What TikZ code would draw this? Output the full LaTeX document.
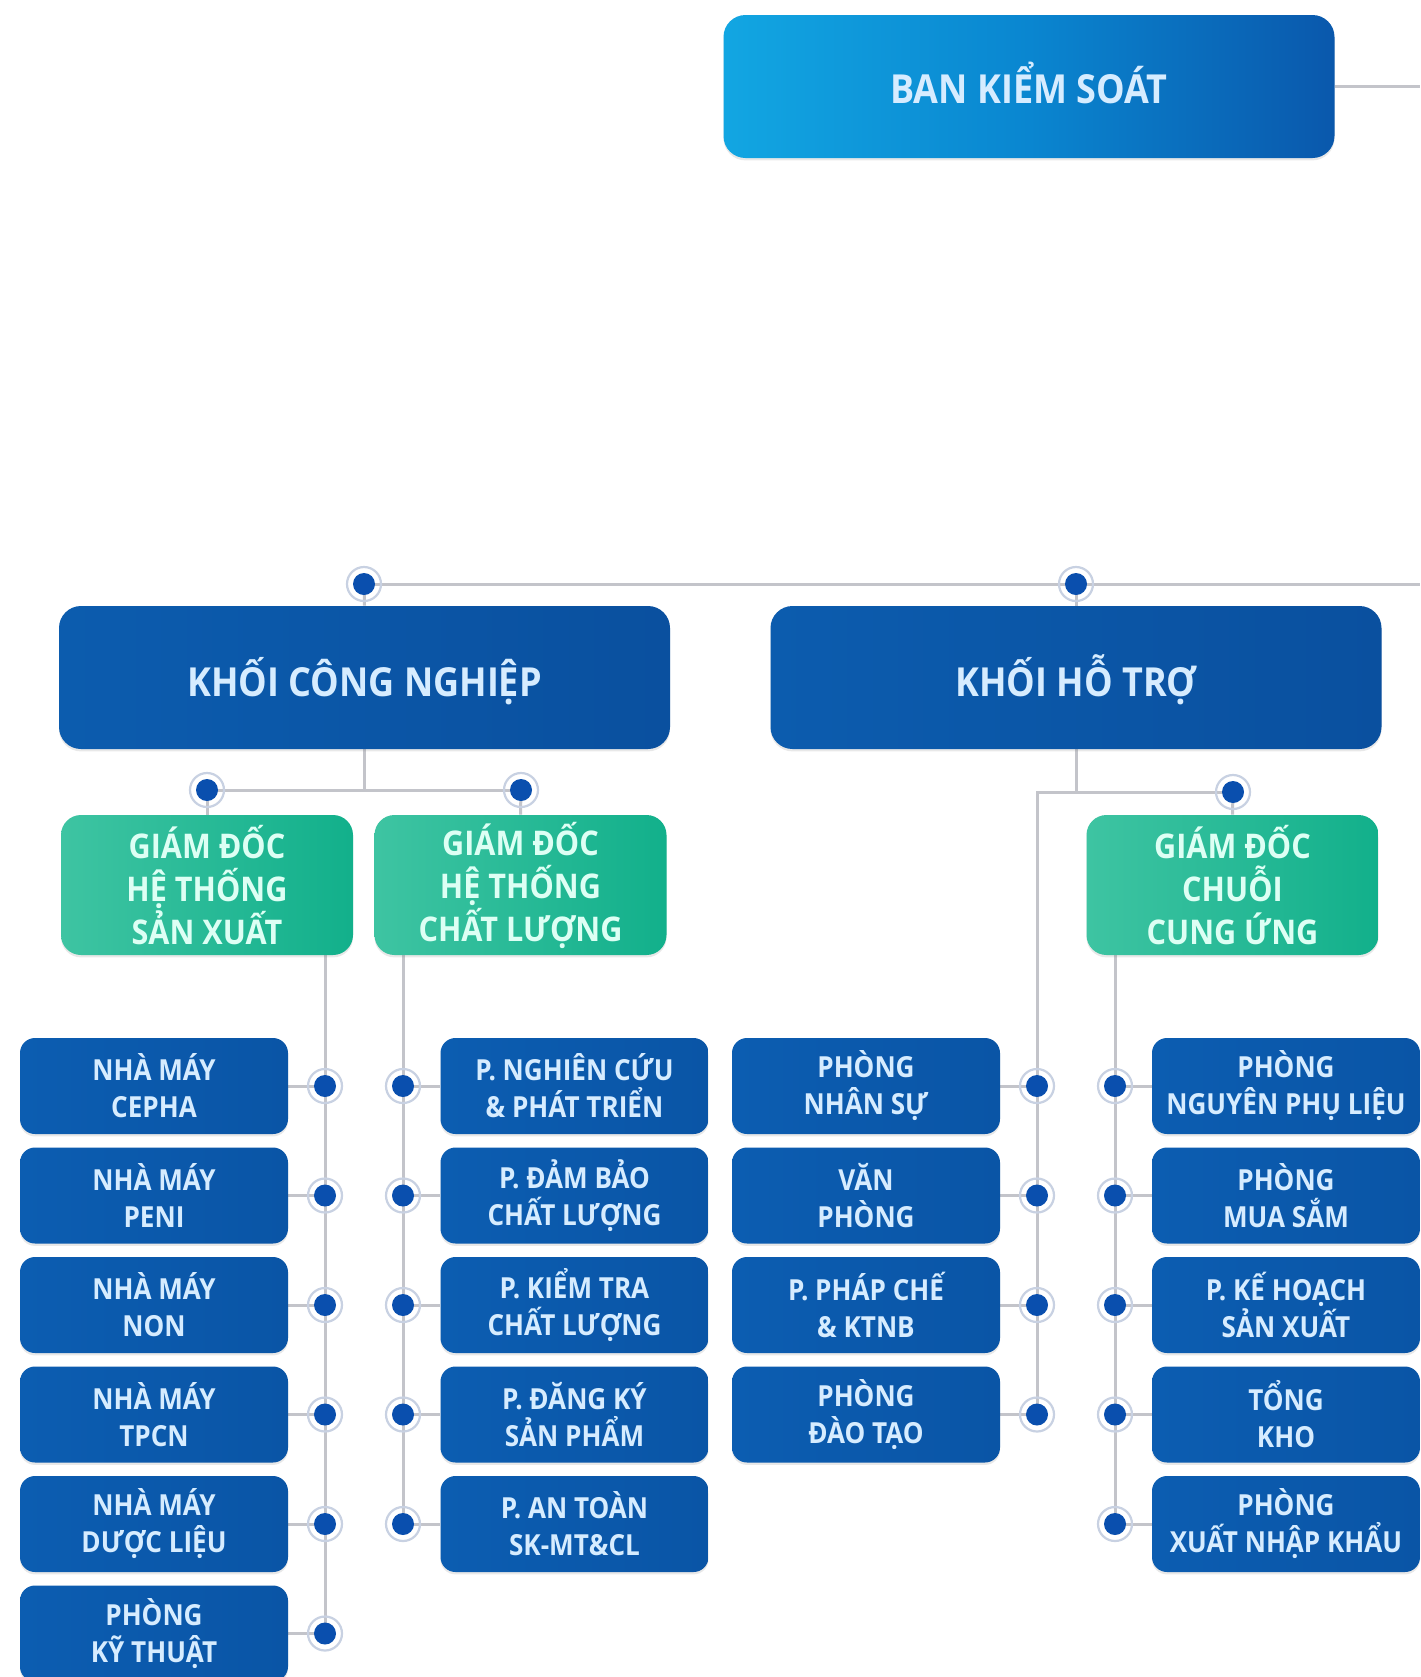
\documentclass[tikz,border=0pt]{standalone}
\usepackage{fontspec}
\newfontfamily\boxfont{Open Sans}[FakeStretch=0.9]
\usetikzlibrary{shadows,backgrounds}
\definecolor{linegray}{HTML}{C3C4CA}
\definecolor{dotblue}{HTML}{0A4FAE}
\definecolor{ringcol}{HTML}{C8D1E2}
\definecolor{txtblue}{HTML}{D6ECFF}
\definecolor{txtgreen}{HTML}{DDFFF4}
\definecolor{topL}{HTML}{12A6E2}
\definecolor{topR}{HTML}{0A58AC}
\definecolor{topM}{HTML}{0A86D0}
\definecolor{headL}{HTML}{0C5CAE}
\definecolor{headR}{HTML}{0A509F}
\definecolor{greenL}{HTML}{3EC4A2}
\definecolor{greenR}{HTML}{12B08B}
\definecolor{smallL}{HTML}{0C5DB1}
\definecolor{smallR}{HTML}{0A55A6}
\tikzset{
  boxbase/.style={rounded corners=7.5pt, inner sep=0pt, align=center,
    drop shadow={opacity=0.18, shadow xshift=0pt, shadow yshift=-1.2pt}},
  topbox/.style={boxbase, rounded corners=11pt, minimum width=305.5pt, minimum height=71.5pt,
    left color=topL, right color=topR, middle color=topM,
    text height=17.2pt, text depth=0pt,
    text=txtblue, font=\boxfont\bfseries\fontsize{20}{24}\selectfont},
  headbox/.style={boxbase, rounded corners=11pt, minimum width=305.5pt, minimum height=71.5pt,
    left color=headL, right color=headR,
    text height=19pt, text depth=0pt,
    text=txtblue, font=\boxfont\bfseries\fontsize{20}{24}\selectfont},
  gbox/.style={boxbase, rounded corners=10pt, minimum width=146pt, minimum height=70pt,
    left color=greenL, right color=greenR,
    text=txtgreen, font=\boxfont\bfseries\fontsize{17}{21.5}\selectfont},
  sbox/.style={boxbase, minimum width=134pt, minimum height=48pt,
    left color=smallL, right color=smallR,
    text=txtblue, font=\boxfont\bfseries\fontsize{14.5}{18.5}\selectfont},
  dotnode/.style={circle, fill=dotblue, minimum size=11pt, inner sep=0pt},
  conn/.style={draw=linegray, line width=1.5pt},
  ring/.style={draw=ringcol, line width=1.1pt},
}
\begin{document}
\begin{tikzpicture}[x=0.5pt, y=-0.5pt]
\useasboundingbox (0,0) rectangle (1420,1677);

% top level
\node[topbox] (ban) at (1029,86.5) {BAN KIỂM SOÁT};
\coordinate (eR1) at (1420,86.5);
\coordinate (eR2) at (1420,584);

\node[headbox] (kcn) at (364.5,677.5) {KHỐI CÔNG NGHIỆP};
\node[headbox] (kht) at (1076,677.5) {KHỐI HỖ TRỢ};

\node[gbox] (g1) at (207,885) {GIÁM ĐỐC\\HỆ THỐNG\\SẢN XUẤT};
\node[gbox] (g2) at (520.5,885) {GIÁM ĐỐC\\HỆ THỐNG\\CHẤT LƯỢNG};
\node[gbox] (g3) at (1232.5,885) {GIÁM ĐỐC\\CHUỖI\\CUNG ỨNG};

% column 1
\node[sbox] (a1) at (154,1086) {NHÀ MÁY\\CEPHA};
\node[sbox] (a2) at (154,1195.5) {NHÀ MÁY\\PENI};
\node[sbox] (a3) at (154,1305) {NHÀ MÁY\\NON};
\node[sbox] (a4) at (154,1414.5) {NHÀ MÁY\\TPCN};
\node[sbox] (a5) at (154,1524) {NHÀ MÁY\\DƯỢC LIỆU};
\node[sbox] (a6) at (154,1633.5) {PHÒNG\\KỸ THUẬT};
% column 2
\node[sbox] (b1) at (574.5,1086) {P. NGHIÊN CỨU\\\& PHÁT TRIỂN};
\node[sbox] (b2) at (574.5,1195.5) {P. ĐẢM BẢO\\CHẤT LƯỢNG};
\node[sbox] (b3) at (574.5,1305) {P. KIỂM TRA\\CHẤT LƯỢNG};
\node[sbox] (b4) at (574.5,1414.5) {P. ĐĂNG KÝ\\SẢN PHẨM};
\node[sbox] (b5) at (574.5,1524) {P. AN TOÀN\\SK-MT\&CL};
% column 3
\node[sbox] (c1) at (866,1086) {PHÒNG\\NHÂN SỰ};
\node[sbox] (c2) at (866,1195.5) {VĂN\\PHÒNG};
\node[sbox] (c3) at (866,1305) {P. PHÁP CHẾ\\\& KTNB};
\node[sbox] (c4) at (866,1414.5) {PHÒNG\\ĐÀO TẠO};
% column 4
\node[sbox] (e1) at (1286,1086) {PHÒNG\\NGUYÊN PHỤ LIỆU};
\node[sbox] (e2) at (1286,1195.5) {PHÒNG\\MUA SẮM};
\node[sbox] (e3) at (1286,1305) {P. KẾ HOẠCH\\SẢN XUẤT};
\node[sbox] (e4) at (1286,1414.5) {TỔNG\\KHO};
\node[sbox] (e5) at (1286,1524) {PHÒNG\\XUẤT NHẬP KHẨU};

% dots
\node[dotnode] (dK) at (364,584) {};
\node[dotnode] (dH) at (1076,584) {};
\node[dotnode] (dG1) at (207,790) {};
\node[dotnode] (dG2) at (521,790) {};
\node[dotnode] (dG3) at (1233,792) {};
\foreach \i/\yy in {1/1086,2/1195.5,3/1305,4/1414.5,5/1524,6/1633.5}{
  \node[dotnode] (da\i) at (325,\yy) {};
}
\foreach \i/\yy in {1/1086,2/1195.5,3/1305,4/1414.5,5/1524}{
  \node[dotnode] (db\i) at (403,\yy) {};
  \node[dotnode] (de\i) at (1115,\yy) {};
}
\foreach \i/\yy in {1/1086,2/1195.5,3/1305,4/1414.5}{
  \node[dotnode] (dc\i) at (1037,\yy) {};
}

% rings
\foreach \n in {dK,dH,dG1,dG2,dG3,da1,da2,da3,da4,da5,da6,db1,db2,db3,db4,db5,dc1,dc2,dc3,dc4,de1,de2,de3,de4,de5}{
  \draw[ring] (\n.center) circle[radius=8.5pt];
}

% connectors
\begin{pgfonlayer}{background}
\fill[white] (0,0) rectangle (1420,1677);
\draw[conn] (ban.east) -- (eR1);
\draw[conn] (dK.center) -- (dH.center) -- (eR2);
\draw[conn] (dK.center) -- (kcn.north);
\draw[conn] (dH.center) -- (kht.north);
\draw[conn] (kcn.south) -- (kcn.south |- dG1);
\draw[conn] (dG1.center) -- (dG2.center);
\draw[conn] (dG1.center) -- (g1.north);
\draw[conn] (dG2.center) -- (g2.north);
\draw[conn] (kht.south) -- (kht.south |- dG3);
\draw[conn] (dG3.center) -| (dc4.center);
\draw[conn] (dG3.center) -- (g3.north);
\draw[conn] (g1.south -| da1) -- (da6.center);
\draw[conn] (g2.south -| db1) -- (db5.center);
\draw[conn] (g3.south -| de1) -- (de5.center);
\foreach \i in {1,...,6}{ \draw[conn] (a\i.east) -- (da\i.center); }
\foreach \i in {1,...,5}{
  \draw[conn] (db\i.center) -- (b\i.west);
  \draw[conn] (de\i.center) -- (e\i.west);
}
\foreach \i in {1,...,4}{ \draw[conn] (c\i.east) -- (dc\i.center); }
\end{pgfonlayer}
\end{tikzpicture}
\end{document}
